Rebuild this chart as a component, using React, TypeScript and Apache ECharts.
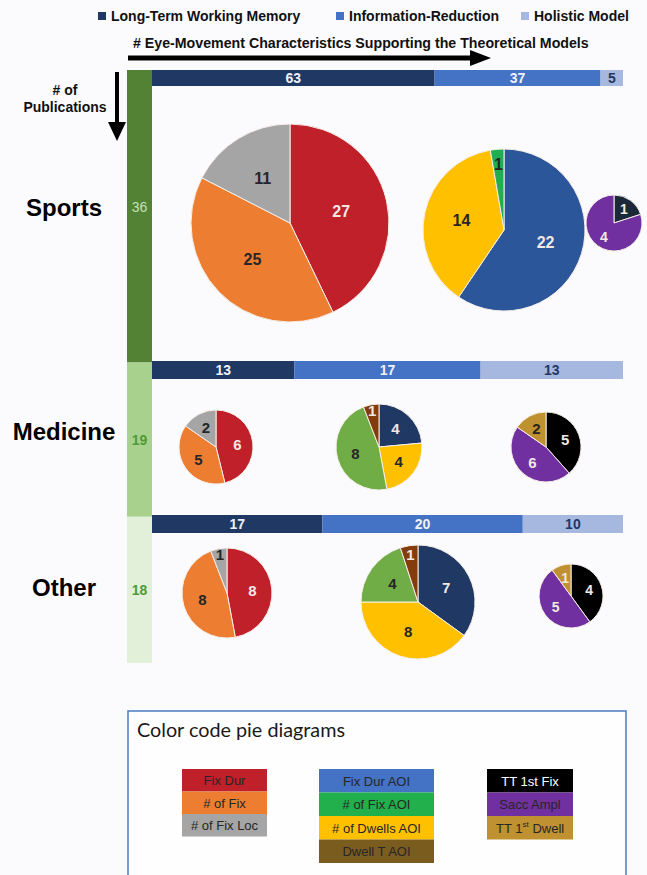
import React, { useEffect, useRef } from 'react';
import * as echarts from 'echarts';

// ---- data -------------------------------------------------------------
const domains = ['Sports', 'Medicine', 'Other'];
const publications = [36, 19, 18];

const modelNames = ['Long-Term Working Memory', 'Information-Reduction', 'Holistic Model'];
const ltwmTotals = [63, 13, 17];
const infoRedTotals = [37, 17, 20];
const holisticTotals = [5, 13, 10];

const ltwmMeasures = ['Fix Dur', '# of Fix', '# of Fix Loc'];
const sportsLtwm = [27, 25, 11];
const medicineLtwm = [6, 5, 2];
const otherLtwm = [8, 8, 1];

const infoRedMeasuresSports = ['Fix Dur AOI', '# of Dwells AOI', '# of Fix AOI'];
const sportsInfoRed = [22, 14, 1];
const infoRedMeasures = ['Fix Dur AOI', '# of Dwells AOI', '# of Fix AOI', 'Dwell T AOI'];
const medicineInfoRed = [4, 4, 8, 1];
const otherInfoRed = [7, 8, 4, 1];

const holisticMeasuresSports = ['TT 1st Fix', 'Sacc Ampl'];
const sportsHolistic = [1, 4];
const holisticMeasures = ['TT 1st Fix', 'Sacc Ampl', 'TT 1st Dwell'];
const medicineHolistic = [5, 6, 2];
const otherHolistic = [4, 5, 1];

const keyLtwm = ['Fix Dur', '# of Fix', '# of Fix Loc'];
const keyInfoRed = ['Fix Dur AOI', '# of Fix AOI', '# of Dwells AOI', 'Dwell T AOI'];
const keyHolistic = ['TT 1st Fix', 'Sacc Ampl', 'TT 1{sup|st} Dwell'];

// ---- styles -----------------------------------------------------------
const FONT = '"Liberation Sans", Arial, Helvetica, sans-serif';
const BG = '#fbfbfd';
const LIGHT = '#f3e7e4';
const DARK = '#262626';

const RED = '#c0202a';
const ORANGE = '#ed7d31';
const GRAY = '#a5a5a5';
const BLUE_AOI = '#2b579a';
const NAVY = '#1f3864';
const YELLOW = '#ffc000';
const GREEN_BRIGHT = '#1faf50';
const GREEN_OLIVE = '#70ad47';
const RUST = '#843c0c';
const NEAR_BLACK = '#1b2838';
const BLACK = '#000000';
const PURPLE = '#7030a0';
const GOLD = '#bf9130';

const modelColors = ['#1f3864', '#4472c4', '#a6b8df'];
const modelLabelColors = ['#eef1f8', '#eef1f8', '#1f3864'];
const pubColors = ['#548235', '#a9d18e', '#e2f0d9'];
const pubLabelColors = ['#c5e0b4', '#4f9a35', '#4f9a35'];

const keyLtwmColors = [RED, ORANGE, GRAY];
const keyInfoRedColors = ['#4472c4', '#21b04b', YELLOW, '#7a5c1f'];
const keyHolisticColors = [BLACK, PURPLE, GOLD];
const keyHolisticText = ['#ffffff', DARK, DARK];

// ---- layout -----------------------------------------------------------
const barLeft = 152;
const barWidth = 471;
const rowBarTops = [70, 361, 515];
const rowBarHeights = [16, 18, 18];
const rowLabelY = [207, 431, 587];

type PieSpec = {
  names: string[];
  values: number[];
  colors: string[];
  labelColors: string[];
  center: [number, number];
  r: number;
  fontSize: number;
};

const pies: PieSpec[] = [
  { names: ltwmMeasures, values: sportsLtwm, colors: [RED, ORANGE, GRAY], labelColors: [LIGHT, DARK, DARK], center: [290, 223], r: 99, fontSize: 16 },
  { names: infoRedMeasuresSports, values: sportsInfoRed, colors: [BLUE_AOI, YELLOW, GREEN_BRIGHT], labelColors: [LIGHT, DARK, DARK], center: [504, 230], r: 81, fontSize: 16 },
  { names: holisticMeasuresSports, values: sportsHolistic, colors: [NEAR_BLACK, PURPLE], labelColors: [LIGHT, LIGHT], center: [614, 223], r: 28, fontSize: 14 },
  { names: ltwmMeasures, values: medicineLtwm, colors: [RED, ORANGE, GRAY], labelColors: [LIGHT, DARK, DARK], center: [216, 447], r: 37, fontSize: 15 },
  { names: infoRedMeasures, values: medicineInfoRed, colors: [NAVY, YELLOW, GREEN_OLIVE, RUST], labelColors: [LIGHT, DARK, DARK, LIGHT], center: [379, 447], r: 43, fontSize: 15 },
  { names: holisticMeasures, values: medicineHolistic, colors: [BLACK, PURPLE, GOLD], labelColors: [LIGHT, LIGHT, DARK], center: [546, 447], r: 35, fontSize: 15 },
  { names: ltwmMeasures, values: otherLtwm, colors: [RED, ORANGE, GRAY], labelColors: [LIGHT, DARK, DARK], center: [227, 593], r: 45, fontSize: 15 },
  { names: infoRedMeasures, values: otherInfoRed, colors: [NAVY, YELLOW, GREEN_OLIVE, RUST], labelColors: [LIGHT, DARK, DARK, LIGHT], center: [418, 602], r: 57, fontSize: 15 },
  { names: holisticMeasures, values: otherHolistic, colors: [BLACK, PURPLE, GOLD], labelColors: [LIGHT, LIGHT, LIGHT], center: [571, 596], r: 32, fontSize: 14 },
];

function sum(a: number[]) {
  return a.reduce((s, v) => s + v, 0);
}

function pieSeries(p: PieSpec) {
  const total = sum(p.values);
  return {
    type: 'pie',
    center: p.center,
    radius: p.r,
    startAngle: 90,
    clockwise: true,
    avoidLabelOverlap: false,
    emphasis: { scale: false },
    label: {
      show: true,
      position: 'inside',
      formatter: '{c}',
      fontFamily: FONT,
      fontWeight: 'bold',
      fontSize: p.fontSize,
    },
    labelLine: { show: false },
    // thin slices carry their number closer to the rim
    labelLayout: (params: any) => {
      const share = p.values[params.dataIndex] / total;
      if (share >= 0.07) return {};
      const rect = params.labelRect;
      const lx = rect.x + rect.width / 2;
      const ly = rect.y + rect.height / 2;
      const k = 0.76 / 0.5 - 1;
      return { dx: (lx - p.center[0]) * k, dy: (ly - p.center[1]) * k };
    },
    itemStyle: { borderColor: '#f6eee8', borderWidth: 1 },
    data: p.names.map((n, i) => ({
      name: n,
      value: p.values[i],
      itemStyle: { color: p.colors[i] },
      label: { color: p.labelColors[i] },
    })),
  };
}

function keyColumn(labels: string[], colors: string[], textColors: string[], x: number, w: number, y0: number, h: number) {
  const els: any[] = [];
  labels.forEach((t, i) => {
    els.push({
      type: 'rect',
      z: 5,
      shape: { x, y: y0 + i * h, width: w, height: h },
      style: { fill: colors[i] },
    });
    els.push({
      type: 'text',
      z: 6,
      x: x + w / 2,
      y: y0 + i * h + h / 2 + 0.5,
      style: {
        text: t,
        fill: textColors[i],
        fontFamily: FONT,
        fontSize: 13,
        align: 'center',
        verticalAlign: 'middle',
        lineHeight: 15,
        rich: {
          sup: { fontSize: 8, fontFamily: FONT, fill: textColors[i], verticalAlign: 'top', lineHeight: 15 },
        },
      },
    });
  });
  return els;
}

function buildOption() {
  const modelCounts = [ltwmTotals, infoRedTotals, holisticTotals];

  const grids: any[] = [{ left: 127, top: 70, width: 25, height: 593 }];
  const xAxes: any[] = [{ type: 'category', data: ['pubs'], show: false, gridIndex: 0 }];
  const yAxes: any[] = [{ type: 'value', min: 0, max: sum(publications), inverse: true, show: false, gridIndex: 0 }];

  domains.forEach((d, i) => {
    grids.push({ left: barLeft, top: rowBarTops[i], width: barWidth, height: rowBarHeights[i] });
    xAxes.push({ type: 'value', min: 0, max: ltwmTotals[i] + infoRedTotals[i] + holisticTotals[i], show: false, gridIndex: i + 1 });
    yAxes.push({ type: 'category', data: [d], show: false, gridIndex: i + 1 });
  });

  const series: any[] = [];

  domains.forEach((d, i) => {
    series.push({
      type: 'bar',
      name: d + ' publications',
      xAxisIndex: 0,
      yAxisIndex: 0,
      stack: 'pubs',
      barWidth: '100%',
      data: [publications[i]],
      itemStyle: { color: pubColors[i] },
      label: {
        show: true,
        position: 'inside',
        offset: i === 0 ? [0, -9] : [0, 0],
        color: pubLabelColors[i],
        fontFamily: FONT,
        fontWeight: i === 0 ? 'normal' : 'bold',
        fontSize: 14,
      },
      emphasis: { disabled: true },
    });
  });

  domains.forEach((d, i) => {
    modelNames.forEach((m, j) => {
      series.push({
        type: 'bar',
        name: m,
        xAxisIndex: i + 1,
        yAxisIndex: i + 1,
        stack: 'row' + i,
        barWidth: '100%',
        data: [modelCounts[j][i]],
        itemStyle: { color: modelColors[j] },
        label: {
          show: true,
          position: 'inside',
          color: modelLabelColors[j],
          fontFamily: FONT,
          fontWeight: 'bold',
          fontSize: 14,
        },
        emphasis: { disabled: true },
      });
    });
  });

  pies.forEach((p) => series.push(pieSeries(p)));

  const legendLefts = [93, 331, 516];
  const legend = modelNames.map((n, i) => ({
    data: [n],
    left: legendLefts[i],
    top: 4,
    icon: 'rect',
    itemWidth: 8,
    itemHeight: 8,
    selectedMode: false,
    textStyle: { fontFamily: FONT, fontWeight: 'bold', fontSize: 14, color: '#111' },
  }));

  const graphic: any[] = [
    {
      type: 'text',
      x: 133,
      y: 43,
      style: {
        text: '# Eye-Movement Characteristics Supporting the Theoretical Models',
        fill: '#111',
        fontFamily: FONT,
        fontWeight: 'bold',
        fontSize: 14.2,
        verticalAlign: 'middle',
      },
    },
    { type: 'line', shape: { x1: 128, y1: 58, x2: 474, y2: 58 }, style: { stroke: '#000', lineWidth: 5 } },
    { type: 'polygon', shape: { points: [[470, 50], [491, 58], [470, 66]] }, style: { fill: '#000' } },
    { type: 'line', shape: { x1: 117, y1: 72, x2: 117, y2: 126 }, style: { stroke: '#000', lineWidth: 4 } },
    { type: 'polygon', shape: { points: [[108, 122], [126, 122], [117, 141]] }, style: { fill: '#000' } },
    {
      type: 'text',
      x: 65,
      y: 90,
      style: { text: '# of', fill: '#111', fontFamily: FONT, fontWeight: 'bold', fontSize: 14, align: 'center', verticalAlign: 'middle' },
    },
    {
      type: 'text',
      x: 65,
      y: 107,
      style: { text: 'Publications', fill: '#111', fontFamily: FONT, fontWeight: 'bold', fontSize: 14, align: 'center', verticalAlign: 'middle' },
    },
    ...domains.map((d, i) => ({
      type: 'text',
      x: 64,
      y: rowLabelY[i],
      style: { text: d, fill: '#000', fontFamily: FONT, fontWeight: 'bold', fontSize: 24, align: 'center', verticalAlign: 'middle' },
    })),
    {
      type: 'rect',
      z: 1,
      shape: { x: 128, y: 711, width: 498, height: 175 },
      style: { fill: '#fefefe', stroke: '#4a7cc4', lineWidth: 1.5 },
    },
    {
      type: 'text',
      z: 6,
      x: 137,
      y: 729,
      style: { text: 'Color code pie diagrams', fill: '#1a1a1a', fontFamily: 'Lato, "Open Sans", sans-serif', fontSize: 19.8, verticalAlign: 'middle' },
    },
    ...keyColumn(keyLtwm, keyLtwmColors, [DARK, DARK, DARK], 182, 85, 769, 22.5),
    ...keyColumn(keyInfoRed, keyInfoRedColors, [DARK, DARK, DARK, DARK], 319, 115, 769, 23.5),
    ...keyColumn(keyHolistic, keyHolisticColors, keyHolisticText, 487, 86, 769, 23.5),
  ];

  return {
    animation: false,
    backgroundColor: BG,
    tooltip: { show: false },
    legend,
    grid: grids,
    xAxis: xAxes,
    yAxis: yAxes,
    series,
    graphic,
  };
}

export default function App() {
  const ref = useRef<HTMLDivElement>(null);

  useEffect(() => {
    document.body.style.margin = '0';
    document.body.style.background = BG;
    if (!ref.current) return;
    const chart = echarts.init(ref.current, null, { renderer: 'svg' });
    chart.setOption(buildOption() as any);
    return () => chart.dispose();
  }, []);

  return <div ref={ref} style={{ width: 647, height: 875 }} />;
}
